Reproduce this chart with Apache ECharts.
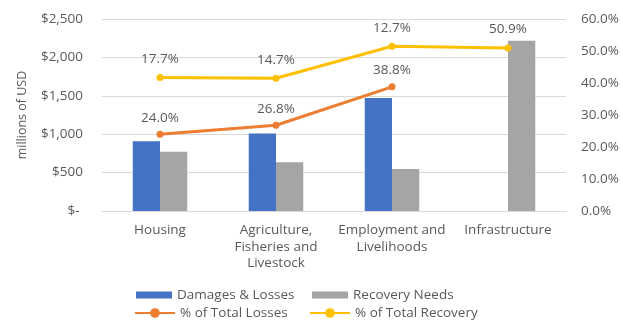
<!DOCTYPE html>
<html>
<head>
<meta charset="utf-8">
<script src="https://cdn.jsdelivr.net/npm/echarts@6/dist/echarts.min.js"></script>
<style>
  html, body { margin: 0; padding: 0; background: #ffffff; }
  #chart { width: 623px; height: 329px; }
</style>
</head>
<body>
<div id="chart"></div>
<script>
// Sectors
const categories = ['Housing', 'Agriculture,\nFisheries and\nLivestock', 'Employment and\nLivelihoods', 'Infrastructure'];

// Millions of USD
const damagesLosses = [907, 1008, 1471, null];
const recoveryNeeds = [773, 634, 547, 2217];

// Percent shares (recovery share is drawn stacked on top of the loss share)
const pctTotalLosses = [24.0, 26.8, 38.8, null];
const pctTotalRecovery = [17.7, 14.7, 12.7, 50.9];

// Axis tick labels
const usdTicks = ['$- ', '$500', '$1,000', '$1,500', '$2,000', '$2,500'];
const pctTicks = ['0.0%', '10.0%', '20.0%', '30.0%', '40.0%', '50.0%', '60.0%'];

const textColor = '#595959';
const gridColor = '#D9D9D9';
const font = 'Open Sans';
const fs = 13.5;

const chart = echarts.init(document.getElementById('chart'), null, { renderer: 'canvas' });

const legendText = { color: textColor, fontFamily: font, fontSize: fs };

chart.setOption({
  animation: false,
  backgroundColor: '#ffffff',
  textStyle: { fontFamily: font },
  grid: { left: 102, right: 57, top: 19, bottom: 118 },
  legend: [
    { data: ['Damages & Losses'], left: 136, top: 288, itemWidth: 36, itemHeight: 7, icon: 'rect', textStyle: legendText, padding: 0 },
    { data: ['Recovery Needs'], left: 312, top: 288, itemWidth: 36, itemHeight: 7, icon: 'rect', textStyle: legendText, padding: 0 },
    { data: ['% of Total Losses'], left: 134, top: 306, itemWidth: 40, itemHeight: 12, textStyle: legendText, padding: 0 },
    { data: ['% of Total Recovery'], left: 309, top: 306, itemWidth: 40, itemHeight: 12, textStyle: legendText, padding: 0 }
  ],
  xAxis: {
    type: 'category',
    data: categories,
    axisLine: { lineStyle: { color: gridColor, width: 1 } },
    axisTick: { show: false },
    axisLabel: {
      color: textColor, fontFamily: font, fontSize: fs,
      lineHeight: 16.5, margin: 11, interval: 0
    }
  },
  yAxis: [
    {
      type: 'value', min: 0, max: 2500, interval: 500,
      name: 'millions of USD', nameLocation: 'middle', nameRotate: 90, nameGap: 73,
      nameTextStyle: { color: textColor, fontFamily: font, fontSize: 12.5 },
      axisLine: { show: false }, axisTick: { show: false },
      splitLine: { lineStyle: { color: gridColor, width: 1 } },
      axisLabel: {
        color: textColor, fontFamily: font, fontSize: fs, margin: 19,
        formatter: v => usdTicks[Math.round(v / 500)]
      }
    },
    {
      type: 'value', min: 0, max: 60, interval: 10,
      axisLine: { show: false }, axisTick: { show: false },
      splitLine: { show: false },
      axisLabel: {
        color: textColor, fontFamily: font, fontSize: fs, margin: 15,
        formatter: v => pctTicks[Math.round(v / 10)]
      }
    }
  ],
  series: [
    {
      name: 'Damages & Losses', type: 'bar', data: damagesLosses,
      itemStyle: { color: '#4472C4' },
      barGap: '0%', barCategoryGap: '53%'
    },
    {
      name: 'Recovery Needs', type: 'bar', data: recoveryNeeds,
      itemStyle: { color: '#A5A5A5' }
    },
    {
      name: '% of Total Losses', type: 'line', yAxisIndex: 1, stack: 'pct',
      data: pctTotalLosses,
      symbol: 'circle', symbolSize: 7,
      lineStyle: { color: '#ED7D31', width: 3 },
      itemStyle: { color: '#ED7D31' },
      label: {
        show: true, position: 'top', distance: 6,
        color: textColor, fontFamily: font, fontSize: fs,
        formatter: p => p.value.toFixed(1) + '%'
      },
      z: 3
    },
    {
      name: '% of Total Recovery', type: 'line', yAxisIndex: 1, stack: 'pct',
      data: pctTotalRecovery,
      symbol: 'circle', symbolSize: 7,
      lineStyle: { color: '#FFC000', width: 3 },
      itemStyle: { color: '#FFC000' },
      label: {
        show: true, position: 'top', distance: 8,
        color: textColor, fontFamily: font, fontSize: fs,
        formatter: p => p.value.toFixed(1) + '%'
      },
      z: 4
    }
  ]
});
</script>
</body>
</html>
